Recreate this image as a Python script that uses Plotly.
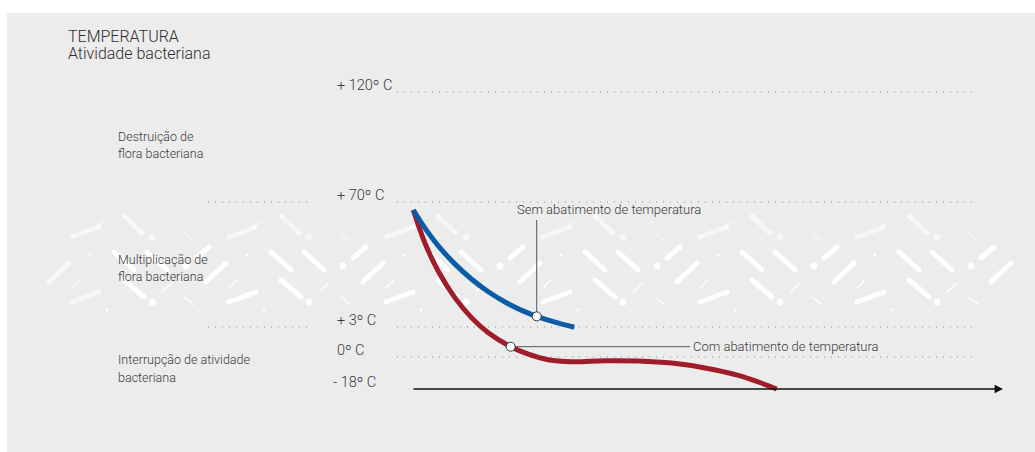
import numpy as np
import plotly.graph_objects as go

# ---------------------------------------------------------------- data
# Temperature levels marked on the vertical scale (°C) and their labels
LEVELS = [-18, 0, 3, 70, 120]
LEVEL_LABELS = ["- 18º C", "0º C", "+ 3º C", "+ 70º C", "+ 120º C"]

# Descriptions of the temperature bands (top to bottom)
BAND_LABELS = [
    ["Destruição de", "flora bacteriana"],
    ["Multiplicação de", "flora bacteriana"],
    ["Interrupção de atividade", "bacteriana"],
]

# Cooling without blast chilling: time (0-100 along the axis) and temperature (°C)
BLUE_TIME = [0.22, 2.2, 4.45, 7.28, 10.1, 12.91, 15.74, 18.56, 21.1, 24.2, 27.46]
BLUE_TEMP = [65.7, 56.0, 46.5, 36.7, 28.6, 21.9, 16.4, 11.9, 8.7, 5.6, 2.98]

# Cooling with blast chilling
RED_TIME = [0.22, 2.2, 4.45, 7.28, 10.1, 12.91, 16.7, 19.68, 23.06, 27.02,
            32.66, 38.29, 43.94, 49.58, 55.21, 58.6, 61.71]
RED_TEMP = [65.7, 47.9, 32.9, 18.6, 7.9, 2.42, 1.03, 0.29, -1.52, -2.64,
            -2.08, -2.25, -3.43, -6.19, -10.35, -14.06, -18.0]

# Highlighted points on each curve
BLUE_MARK_TIME, BLUE_MARK_TEMP = [21.1], [8.7]
RED_MARK_TIME, RED_MARK_TEMP = [16.7], [1.03]

BLUE_NAME = "Sem abatimento de temperatura"
RED_NAME = "Com abatimento de temperatura"
TITLE = "TEMPERATURA"
SUBTITLE = "Atividade bacteriana"

# ---------------------------------------------------------------- scale
W, H = 1035, 452
# banded vertical scale: height (px) of each level above the -18 °C baseline
SCALE_POS = [0, 32, 62, 187, 297]
BASE_PX = 389          # baseline row in the page
X0_PX = 412            # time 0 column in the page
PX_PER_UNIT = 5.91     # time axis: 100 units span the arrow


def to_scale(temp):
    return np.interp(temp, LEVELS, SCALE_POS)


def xu(px):
    return (px - X0_PX) / PX_PER_UNIT


def yu(py):
    return BASE_PX - py


def xp(px):
    return px / W


def yp(py):
    return 1 - py / H


FONT = "Roboto"
TEXT = "#3a3a3a"
BLUE = "#0b5ca6"
RED = "#9f1c2b"
DOT = "#8c8c8c"

fig = go.Figure()

# ---------------------------------------------------------------- texture
# white dashes and dots filling the multiplication band (repeating tile)
TILE_ORIGIN, TILE_PERIOD = 623, 157
TILE_THICK = [((-5, 252), (15, 270), True), ((44, 258), (57, 247), True),
              ((54, 282), (74, 263), True), ((77, 237), (104, 227), False),
              ((77, 302), (104, 292), True), ((119, 252), (139, 270), True),
              ((129, 280), (149, 297), True), ((129, 216), (147, 233), False)]
TILE_THIN = [((32, 233), (42, 242), False), ((32, 297), (42, 305), True),
             ((10, 292), (20, 283), True), ((77, 288), (85, 280), True),
             ((100, 228), (110, 220), False)]
TILE_DOTS = [((0, 237), 7, False), ((0, 302), 7, True), ((34, 266), 7, True),
             ((95, 255), 3, True), ((112, 310), 3, True)]

groups = {}


def add_seg(key, p0, p1):
    xs, ys = groups.setdefault(key, ([], []))
    xs += [xu(p0[0]), xu(p1[0]), None]
    ys += [yu(p0[1]), yu(p1[1]), None]


dots = {}
for k in range(-4, 3):
    ox = TILE_ORIGIN + k * TILE_PERIOD
    for (a, b, strong) in TILE_THICK:
        x0, x1 = ox + a[0], ox + b[0]
        if min(x0, x1) < 45 or max(x0, x1) > 1012:
            continue
        s = strong and min(x0, x1) > 95
        add_seg(("thick", s), (x0, a[1]), (x1, b[1]))
    for (a, b, strong) in TILE_THIN:
        x0, x1 = ox + a[0], ox + b[0]
        if min(x0, x1) < 45 or max(x0, x1) > 1012:
            continue
        s = strong and min(x0, x1) > 95
        add_seg(("thin", s), (x0, a[1]), (x1, b[1]))
    for (c, size, strong) in TILE_DOTS:
        cx = ox + c[0]
        if cx < 45 or cx > 1012:
            continue
        s = strong and cx > 95
        d = dots.setdefault((size, s), ([], []))
        d[0].append(xu(cx))
        d[1].append(yu(c[1]))

for (kind, strong), (xs, ys) in groups.items():
    col = "rgba(255,255,255,0.95)" if strong else "rgba(255,255,255,0.5)"
    wdt = 5 if kind == "thick" else 1.5
    fig.add_trace(go.Scatter(
        x=xs, y=ys, mode="lines+markers" if kind == "thick" else "lines",
        line=dict(color=col, width=wdt),
        marker=dict(color=col, size=wdt, line=dict(width=0)),
        hoverinfo="skip", showlegend=False))
for (size, strong), (xs, ys) in dots.items():
    col = "rgba(255,255,255,0.95)" if strong else "rgba(255,255,255,0.5)"
    fig.add_trace(go.Scatter(
        x=xs, y=ys, mode="markers",
        marker=dict(color=col, size=size, line=dict(width=0)),
        hoverinfo="skip", showlegend=False))

# ---------------------------------------------------------------- connectors
blue_my = to_scale(BLUE_MARK_TEMP)
red_my = to_scale(RED_MARK_TEMP)
fig.add_trace(go.Scatter(
    x=[BLUE_MARK_TIME[0], BLUE_MARK_TIME[0]], y=[blue_my[0], yu(220)],
    mode="lines", line=dict(color="#555", width=1),
    hoverinfo="skip", showlegend=False))
fig.add_trace(go.Scatter(
    x=[RED_MARK_TIME[0], xu(690)], y=[red_my[0], red_my[0]],
    mode="lines", line=dict(color="#555", width=1),
    hoverinfo="skip", showlegend=False))

# ---------------------------------------------------------------- curves
fig.add_trace(go.Scatter(
    x=RED_TIME, y=to_scale(RED_TEMP), mode="lines", name=RED_NAME,
    line=dict(color=RED, width=5, shape="spline", smoothing=1.0),
    showlegend=False))
fig.add_trace(go.Scatter(
    x=BLUE_TIME, y=to_scale(BLUE_TEMP), mode="lines", name=BLUE_NAME,
    line=dict(color=BLUE, width=5, shape="spline", smoothing=1.0),
    showlegend=False))
fig.add_trace(go.Scatter(
    x=BLUE_MARK_TIME + RED_MARK_TIME,
    y=list(blue_my) + list(red_my), mode="markers",
    marker=dict(color="white", size=9, line=dict(color="#333", width=1)),
    hoverinfo="skip", showlegend=False))

# ---------------------------------------------------------------- shapes
shapes = [dict(type="rect", xref="paper", yref="paper",
               x0=xp(7), x1=1, y0=0, y1=yp(13),
               fillcolor="#ececec", line=dict(width=0), layer="below")]
dotted = dict(color=DOT, width=1, dash="1px,6px")
for lv in LEVELS[1:]:
    ys = float(to_scale(lv))
    shapes.append(dict(type="line", xref="x", yref="y",
                       x0=xu(397), x1=xu(977), y0=ys, y1=ys,
                       line=dotted, layer="below"))
for lv in (3, 70):
    ys = float(to_scale(lv))
    shapes.append(dict(type="line", xref="x", yref="y",
                       x0=xu(208), x1=xu(310), y0=ys, y1=ys,
                       line=dotted, layer="below"))

# ---------------------------------------------------------------- text
annotations = []
# time axis arrow along the -18 °C baseline
annotations.append(dict(
    x=100, y=float(to_scale(LEVELS[0])), ax=0, ay=float(to_scale(LEVELS[0])),
    xref="x", yref="y", axref="x", ayref="y", text="", showarrow=True,
    arrowhead=2, arrowsize=1.2, arrowwidth=1.4, arrowcolor="#111", standoff=0))

for lv, lab in zip(LEVELS, LEVEL_LABELS):
    annotations.append(dict(
        x=xu(335), y=float(to_scale(lv)), xref="x", yref="y", text=lab,
        showarrow=False, xanchor="left", yanchor="middle",
        xshift=-4 if lv < 0 else 0, yshift=7,
        font=dict(family=FONT, size=14.5, color=TEXT, weight=300)))

band_rows = [(136, 153), (259, 276), (359, 377)]
for lines, rows in zip(BAND_LABELS, band_rows):
    for txt, row in zip(lines, rows):
        annotations.append(dict(
            x=xp(116), y=yp(row), xref="paper", yref="paper", text=txt,
            showarrow=False, xanchor="left", yanchor="middle",
            font=dict(family=FONT, size=12.5, color=TEXT, weight=300)))

annotations.append(dict(
    x=xp(66), y=yp(36), xref="paper", yref="paper", text=TITLE,
    showarrow=False, xanchor="left", yanchor="middle",
    font=dict(family=FONT, size=16, color="#2e2e2e", weight=300)))
annotations.append(dict(
    x=xp(66), y=yp(53), xref="paper", yref="paper", text=SUBTITLE,
    showarrow=False, xanchor="left", yanchor="middle",
    font=dict(family=FONT, size=16, color="#2e2e2e", weight=300)))

annotations.append(dict(
    x=BLUE_MARK_TIME[0], y=yu(209), xref="x", yref="y", text=BLUE_NAME,
    showarrow=False, xanchor="center", yanchor="middle", xshift=72,
    font=dict(family=FONT, size=13, color=TEXT, weight=300)))
annotations.append(dict(
    x=xu(691), y=float(red_my[0]), xref="x", yref="y", text=RED_NAME,
    showarrow=False, xanchor="left", yanchor="middle",
    font=dict(family=FONT, size=13, color=TEXT, weight=300)))

fig.update_layout(
    width=W, height=H, margin=dict(l=0, r=0, t=0, b=0, pad=0),
    paper_bgcolor="white", plot_bgcolor="white",
    xaxis=dict(range=[xu(0), xu(W)], visible=False, fixedrange=True),
    yaxis=dict(range=[yu(H), yu(0)], visible=False, fixedrange=True),
    shapes=shapes, annotations=annotations, showlegend=False,
    hovermode=False,
)

fig.write_html("out.html", config={"displayModeBar": False})
